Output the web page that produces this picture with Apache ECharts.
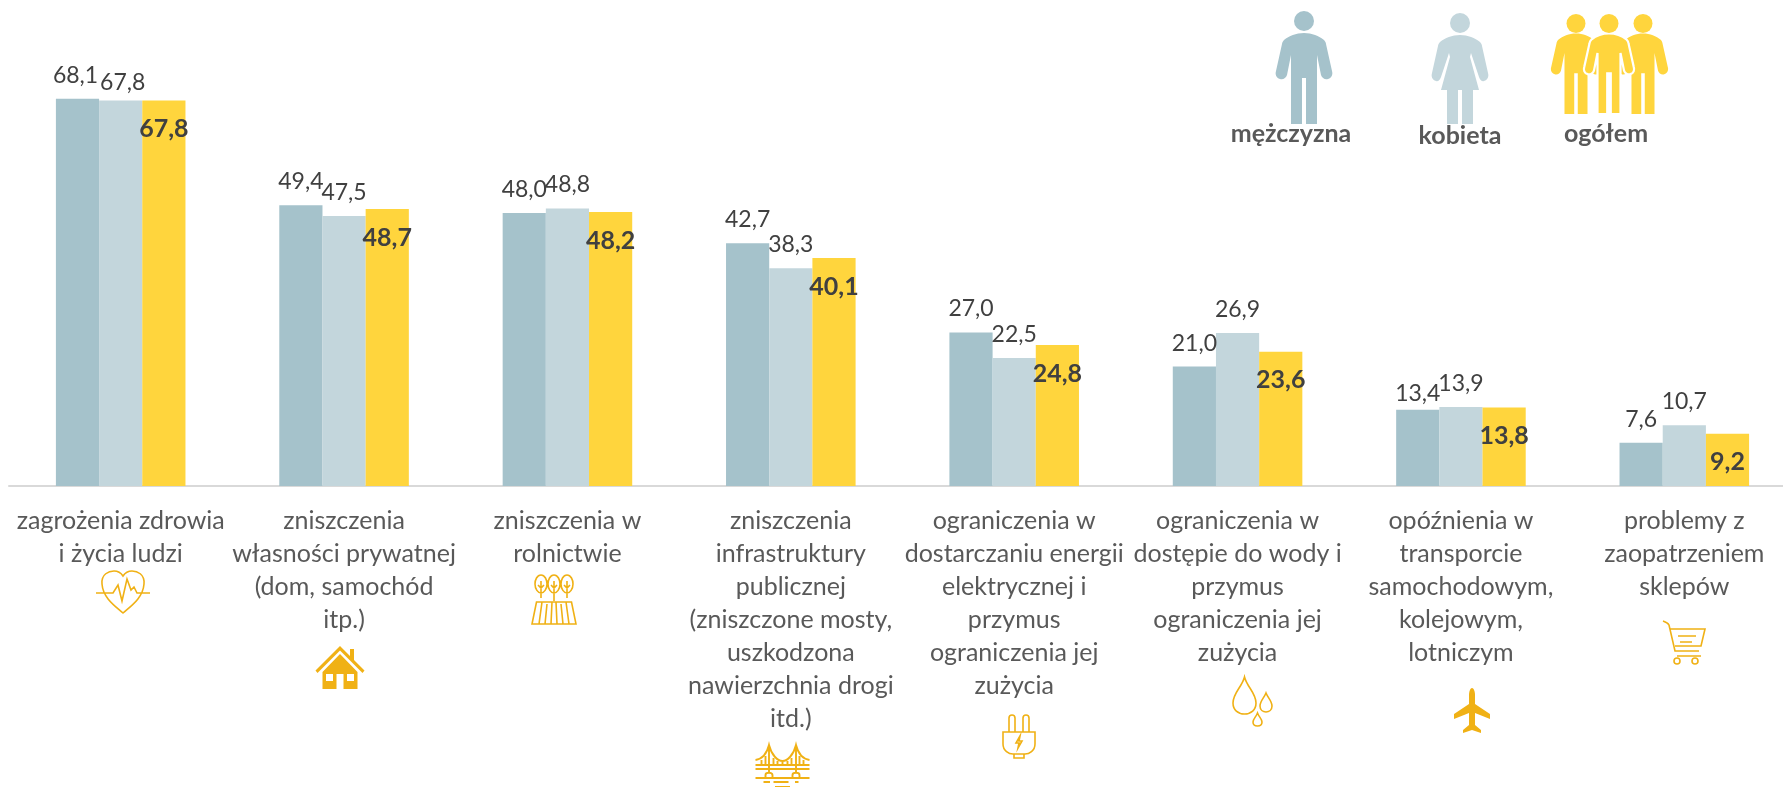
<!DOCTYPE html>
<html>
<head>
<meta charset="utf-8">
<style>
  html, body { margin: 0; padding: 0; background: #fff; overflow: hidden; }
  /* last category band runs past the right edge of the picture */
  #chart { width: 1800px; height: 787px; }
</style>
<script src="https://cdn.jsdelivr.net/npm/echarts@6/dist/echarts.min.js"></script>
</head>
<body>
<div id="chart"></div>
<script>
const categories = [
  "zagrożenia zdrowia\ni życia ludzi",
  "zniszczenia\nwłasności prywatnej\n(dom, samochód\nitp.)",
  "zniszczenia w\nrolnictwie",
  "zniszczenia\ninfrastruktury\npublicznej\n(zniszczone mosty,\nuszkodzona\nnawierzchnia drogi\nitd.)",
  "ograniczenia w\ndostarczaniu energii\nelektrycznej i\nprzymus\nograniczenia jej\nzużycia",
  "ograniczenia w\ndostępie do wody i\nprzymus\nograniczenia jej\nzużycia",
  "opóźnienia w\ntransporcie\nsamochodowym,\nkolejowym,\nlotniczym",
  "problemy z\nzaopatrzeniem\nsklepów",
];
const men = [68.1, 49.4, 48.0, 42.7, 27.0, 21.0, 13.4, 7.6];
const women = [67.8, 47.5, 48.8, 38.3, 22.5, 26.9, 13.9, 10.7];
const total = [67.8, 48.7, 48.2, 40.1, 24.8, 23.6, 13.8, 9.2];

// hand placed labels, same as in the source chart: [dx, dy]
const menNudge = { 0: [-2, 0], 6: [0, 7] };
const womenNudge = { 0: [2, 6] };

const GOLD = "#F0B115";
const fmt = (v) => v.toFixed(1).replace(".", ",");

const withNudge = (values, nudge) =>
  values.map((v, i) => ({
    value: v,
    label: nudge[i] ? { offset: nudge[i] } : undefined,
  }));

// pictograms
const headPath = "M10 10A10 10 0 1 1-10 10A10 10 0 1 1 10 10Z";
const manPath =
  "M0 22C-8 22-15 25-20 29C-21 30-22 32-22 33L-28 60C-29 63-28 67-24 68C-21 69-18 67-17 64L-13 44L-13 113L-2 113L-2 67L2 67L2 113L13 113L13 44L17 64C18 67 21 69 24 68C28 67 29 63 28 60L22 33C22 32 21 30 20 29C15 25 8 22 0 22Z";
const womanPath =
  "M0 22C-8 22-15 25-20 29C-21 30-22 32-22 33L-28 60C-29 63-28 67-24 68C-21 69-20 66-19 64L-11 40L-10 44L-19 77L-13 77L-13 111L-2 111L-2 77L2 77L2 111L13 111L13 77L19 77L10 44L11 40L19 64C20 66 21 69 24 68C28 67 29 63 28 60L22 33C22 32 21 30 20 29C15 25 8 22 0 22Z";
const heartPath =
  "M0 21C-8 14-20 6-21-8C-22-18-14-21-9-21C-5-21-2-19 0-16C2-19 5-21 9-21C14-21 22-18 21-8C20 6 8 14 0 21Z" +
  "M-27 1L-10 1L-5-7L-1 9L4-13L8-2L11-5L14 1L27 1";
const treesPath =
  "M-13-25C-17-25-19-20-19-16C-19-11-16-7-13-7C-10-7-7-11-7-16C-7-20-9-25-13-25Z" +
  "M0-25C-4-25-6-20-6-16C-6-11-3-7 0-7C3-7 6-11 6-16C6-20 4-25 0-25Z" +
  "M13-25C9-25 7-20 7-16C7-11 10-7 13-7C16-7 19-11 19-16C19-20 17-25 13-25Z" +
  "M-13-19L-13-2M-16-15L-13-12L-10-15M0-19L0 1M-3-15L0-12L3-15M13-19L13-2M10-15L13-12L16-15" +
  "M-17.5 2L17.5 2L22 24L-22 24Z" +
  "M-12 2L-15 24M-7 4L-9 24M-2 2L-3 24M2 2L3 24M7 4L9 24M12 2L15 24";
const housePath =
  "M0-21.5L-24.5 3L-22.5 5.5L0-17L22.5 5.5L24.5 3L14-7.5L14-18.5L10-18.5L10-11.5Z" +
  "M0-13.5L-17.5 4.5L-17.5 21.5L-3.5 21.5L-3.5 6.5L3.5 6.5L3.5 21.5L17.5 21.5L17.5 4.5Z" +
  "M-14 6.5L-7 6.5L-7 13.5L-14 13.5ZM7 6.5L14 6.5L14 13.5L7 13.5Z";
const bridgePath =
  "M-27 0L27 0M-27 4L27 4M-27 13L27 13" +
  "M-13.5-20L-13.5 7M13.5-20L13.5 7" +
  "M-27-5C-21-6-16-10-13.5-20C-11-10-5-4 0-4C5-4 11-10 13.5-20C16-10 21-6 27-5" +
  "M-21-5L-21 0M-17-9L-17 0M-9-7L-9 0M-5-4L-5 0M0-4L0 0M5-4L5 0M9-7L9 0M17-9L17 0M21-5L21 0" +
  "M-17 13L-17 10C-17 7-10 7-10 10L-10 13M10 13L10 10C10 7 17 7 17 10L17 13" +
  "M-19 17L-12.5 17M-9 17L6 17M12.5 17L16 17M-7.5 22L7.5 22";
const plugPath =
  "M-10-5L-10-19C-10-23-4-23-4-19L-4-5M4-5L4-19C4-23 10-23 10-19L10-5" +
  "M-16-5L16-5L16 7C16 14 10 17 6 17L-6 17C-10 17-16 14-16 7Z" +
  "M-5 17L-5 21L5 21L5 17M1-1L-3 6L0 6L-1 11L3 4L0 4Z";
const dropsPath =
  "M-13.5-24C-16-14-25-8-25 2C-25 9-20 13-13.5 13C-7 13-2 9-2 2C-2-8-11-14-13.5-24Z" +
  "M8-8C6-3 2 0 2 5C2 9 5 11 8 11C11 11 14 9 14 5C14 0 10-3 8-8Z" +
  "M-0.5 12C-2 16-5 18-5 21C-5 24-3 25-0.5 25C2 25 4 24 4 21C4 18 1 16-0.5 12Z";
const planePath =
  "M0-23C-2-23-3-19-3-16L-3-7L-18 3L-18 8L-3 2L-3 14L-9 19L-9 22L0 19L9 22L9 19L3 14L3 2L18 8L18 3L3-7L3-16C3-19 2-23 0-23Z";
const cartPath =
  "M-21-21C-18-20-16-19-15-17L-9 9L15 9M-14-13L21-13L17 4L-9 4M-7 14L17 14" +
  "M-6-6L12-6M-4 0L8 0" +
  "M-4 19A3 3 0 1 1-10 19A3 3 0 1 1-4 19ZM14 19A3 3 0 1 1 8 19A3 3 0 1 1 14 19Z";

const pictogram = (path, x, y, color, scale = 1, outline) => ({
  type: "path",
  x,
  y,
  scaleX: scale,
  scaleY: scale,
  shape: { pathData: path },
  style: { fill: color, stroke: outline || "none", lineWidth: outline ? 2.5 : 0 },
});
const lineIcon = (path, x, y, width = 1.6) => ({
  type: "path",
  x,
  y,
  shape: { pathData: path },
  style: { fill: "none", stroke: GOLD, lineWidth: width },
});
const legendText = (text, x, y) => ({
  type: "text",
  x,
  y,
  style: {
    text,
    fill: "#595959",
    font: "bold 25px Lato",
    textAlign: "center",
    textVerticalAlign: "middle",
  },
});

const decorations = [
  pictogram(manPath, 1304, 11, "#A5C2CB"),
  pictogram(headPath, 1304, 11, "#A5C2CB"),
  pictogram(womanPath, 1460, 13, "#C3D6DC"),
  pictogram(headPath, 1460, 13, "#C3D6DC"),
  pictogram(manPath, 1576, 14, "#FFD53D", 0.885),
  pictogram(manPath, 1643, 14, "#FFD53D", 0.885),
  pictogram(manPath, 1609, 14, "#FFD53D", 0.885, "#fff"),
  pictogram(headPath, 1576, 14, "#FFD53D", 0.95),
  pictogram(headPath, 1609, 14, "#FFD53D", 0.95),
  pictogram(headPath, 1643, 14, "#FFD53D", 0.95),
  legendText("mężczyzna", 1291, 134),
  legendText("kobieta", 1460, 136),
  legendText("ogółem", 1606, 134),
  lineIcon(heartPath, 123, 592),
  lineIcon(treesPath, 554, 600),
  pictogram(housePath, 340, 667.5, GOLD),
  lineIcon(bridgePath, 782.5, 765, 1.9),
  lineIcon(plugPath, 1019, 737),
  lineIcon(dropsPath, 1258, 701),
  pictogram(planePath, 1472, 711, GOLD),
  lineIcon(cartPath, 1684, 642),
];

const chart = echarts.init(document.getElementById("chart"));
chart.setOption({
  animation: false,
  backgroundColor: "#fff",
  grid: { left: 9, top: 88, width: 1787, height: 398 },
  xAxis: {
    type: "category",
    data: categories,
    axisTick: { show: false },
    axisLine: { lineStyle: { color: "#D9D9D9", width: 2 } },
    axisLabel: {
      interval: 0,
      margin: 18,
      fontFamily: "Lato",
      fontSize: 25,
      lineHeight: 33,
      color: "#595959",
    },
  },
  yAxis: { type: "value", min: 0, max: 70, show: false },
  series: [
    {
      name: "mężczyzna",
      type: "bar",
      barGap: 0,
      barCategoryGap: "42%",
      itemStyle: { color: "#A5C2CB" },
      label: {
        show: true,
        position: "top",
        distance: 12,
        fontFamily: "Lato",
        fontSize: 23,
        color: "#404040",
        formatter: (p) => fmt(p.value),
      },
      data: withNudge(men, menNudge),
    },
    {
      name: "kobieta",
      type: "bar",
      itemStyle: { color: "#C3D6DC" },
      label: {
        show: true,
        position: "top",
        distance: 12,
        fontFamily: "Lato",
        fontSize: 23,
        color: "#404040",
        formatter: (p) => fmt(p.value),
      },
      data: withNudge(women, womenNudge),
    },
    {
      name: "ogółem",
      type: "bar",
      itemStyle: { color: "#FFD53D" },
      label: {
        show: true,
        position: "insideTop",
        distance: 16,
        fontFamily: "Lato",
        fontSize: 25,
        fontWeight: "bold",
        color: "#404040",
        formatter: (p) => fmt(p.value),
      },
      data: total,
    },
    {
      // legend figures and the icons under the labels
      type: "custom",
      coordinateSystem: "none",
      silent: true,
      data: [0],
      renderItem: () => ({ type: "group", children: decorations }),
    },
  ],
});
</script>
</body>
</html>
